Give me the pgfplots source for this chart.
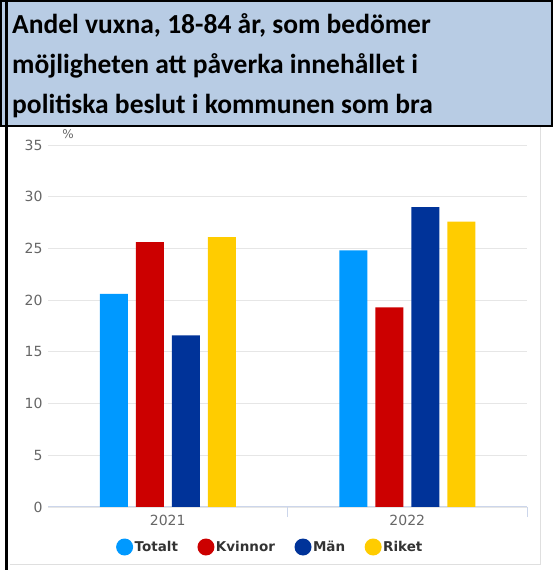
\documentclass[border=0pt]{standalone}
\usepackage{pgfplots}
\pgfplotsset{compat=1.18}
\usepackage{fontspec}
\setmainfont{DejaVu Sans}
\newfontfamily\titlefont{Carlito}
\definecolor{titlebg}{HTML}{B8CCE4}
\definecolor{cTot}{HTML}{0099FF}
\definecolor{cKvi}{HTML}{CC0000}
\definecolor{cMan}{HTML}{003399}
\definecolor{cRik}{HTML}{FFCC00}
\definecolor{gridc}{HTML}{E6E6E6}
\definecolor{xaxc}{HTML}{CCD6EB}
\definecolor{tickc}{HTML}{666666}
\definecolor{legc}{HTML}{333333}
\begin{document}
\begin{tikzpicture}[x=1bp,y=1bp]
\useasboundingbox (0,0) rectangle (554,570);
% title box
\fill[titlebg] (0,443) rectangle (553,570);
\draw[black,line width=2bp] (1,444) rectangle (552,569);
\fill[black] (4.5,0) rectangle (7.5,570);
\draw[gray!25,line width=1bp] (10,5) -- (540,5) -- (540,443);
\node[anchor=base west,inner sep=0pt,font=\titlefont\bfseries\fontsize{27.5bp}{32bp}\selectfont] at (12,536) {Andel vuxna, 18-84 år, som bedömer};
\node[anchor=base west,inner sep=0pt,font=\titlefont\bfseries\fontsize{27.5bp}{32bp}\selectfont] at (12,496) {möjligheten att påverka innehållet i};
\node[anchor=base west,inner sep=0pt,font=\titlefont\bfseries\fontsize{27.5bp}{32bp}\selectfont] at (12,456) {politiska beslut i kommunen som bra};
\begin{axis}[
  at={(48bp,63bp)}, anchor=south west,
  scale only axis, width=479bp, height=362bp,
  xmin=-0.5, xmax=1.5, ymin=0, ymax=35,
  ybar=8bp, bar width=28bp,
  axis lines*=left,
  x axis line style={draw=xaxc,line width=1bp},
  y axis line style={draw=none},
  ytick={0,5,...,35},
  ymajorgrids, grid style={draw=gridc,line width=0.8bp},
  major tick length=0pt,
  xtick={0,1}, xticklabels={2021,2022},
  extra x ticks={0.5,1.5}, extra x tick labels={},
  extra x tick style={major tick length=10bp, tick align=outside, tick style={draw=xaxc,line width=1bp}, grid=none},
  /pgf/number format/assume math mode=true,
  tick label style={font=\fontsize{14bp}{16bp}\selectfont, text=tickc},
  yticklabel style={xshift=-2bp},
  xticklabel style={yshift=-5bp},
  legend columns=4,
  legend style={at={(0.4635,-0.1105)}, anchor=center, draw=none, fill=none,
    font=\bfseries\fontsize{13.5bp}{15bp}\selectfont, text=legc,
    /tikz/every even column/.append style={column sep=18bp},
    nodes={inner xsep=1.5bp}},
  legend image code/.code={\fill (8.5bp,0bp) circle (8.5bp);},
]
\addplot[fill=cTot,draw=none,legend image code/.code={\fill[cTot] (8.5bp,0bp) circle (8.5bp);}] coordinates {(0,20.6) (1,24.8)};
\addplot[fill=cKvi,draw=none,legend image code/.code={\fill[cKvi] (8.5bp,0bp) circle (8.5bp);}] coordinates {(0,25.6) (1,19.3)};
\addplot[fill=cMan,draw=none,legend image code/.code={\fill[cMan] (8.5bp,0bp) circle (8.5bp);}] coordinates {(0,16.6) (1,29.0)};
\addplot[fill=cRik,draw=none,legend image code/.code={\fill[cRik] (8.5bp,0bp) circle (8.5bp);}] coordinates {(0,26.1) (1,27.6)};
\legend{Totalt,Kvinnor,Män,Riket}
\end{axis}
\node[font=\fontsize{12bp}{14bp}\selectfont,text=tickc] at (68,436) {\%};
\end{tikzpicture}
\end{document}
